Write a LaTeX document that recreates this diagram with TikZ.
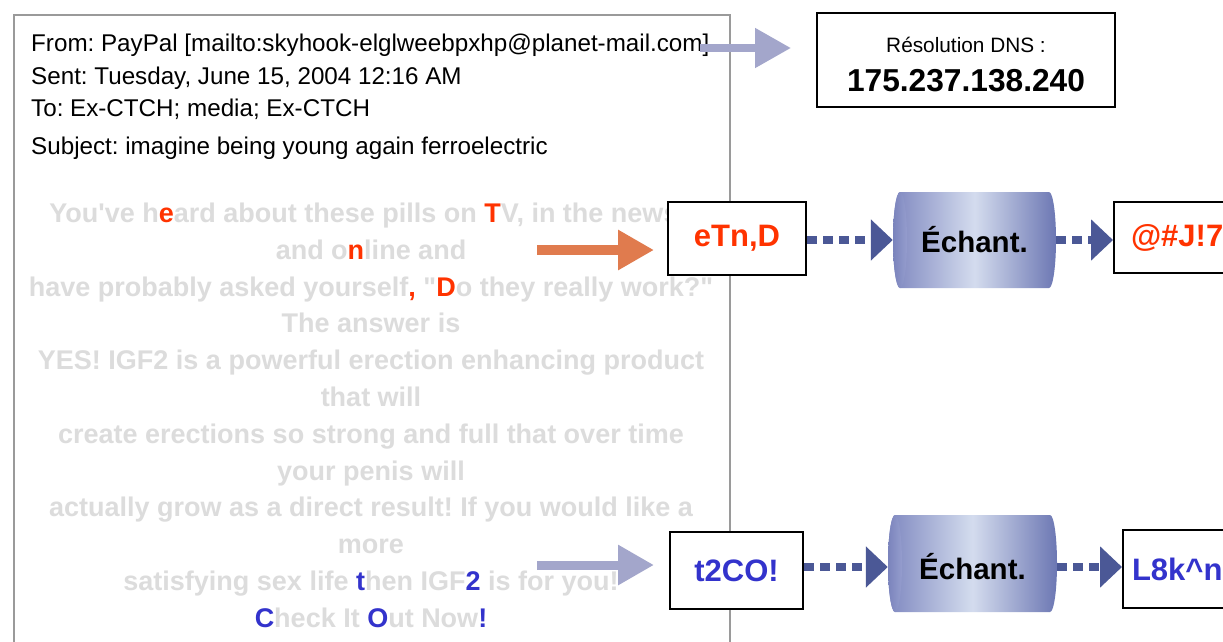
\documentclass[tikz,border=0pt]{standalone}
\usepackage{fontspec}
\setmainfont{Liberation Sans}
\usetikzlibrary{arrows.meta}
\definecolor{hired}{HTML}{FF3300}
\definecolor{hiblue}{HTML}{3333CC}
\definecolor{bodygray}{HTML}{DCDCDC}
\definecolor{lav}{HTML}{A3A6CB}
\definecolor{orng}{HTML}{E07B4E}
\definecolor{navy}{HTML}{4B5896}
\definecolor{mailgray}{HTML}{9A9A9A}
\definecolor{cylL}{HTML}{7F88C0}
\definecolor{cylM}{HTML}{D4DCEE}
\definecolor{cylR}{HTML}{6C77B3}
\definecolor{capL}{HTML}{7A83BC}
\definecolor{capR}{HTML}{959DCD}
\newcommand\hlR[1]{\textcolor{hired}{#1}}
\newcommand\hlB[1]{\textcolor{hiblue}{#1}}
\frenchspacing
\begin{document}
\begin{tikzpicture}[x=1pt,y=-1pt,
 hdr/.style={anchor=base west, inner sep=0pt, font=\fontsize{24.2}{29}\selectfont},
 bodyline/.style={anchor=base, inner sep=0pt, text=bodygray, font=\bfseries\fontsize{27}{31}\selectfont},
 wbox/.style={draw=black, line width=2pt, fill=white, rectangle, inner sep=0pt},
 boxtxt/.style={font=\bfseries\fontsize{31}{36}\selectfont},
 fatarrow/.style={line width=9pt, -{Triangle[length=36pt,width=38pt]}},
 dotconn/.style={navy, line width=8pt, dash pattern=on 10pt off 6pt, -{Triangle[length=22pt,width=40pt]}},
 cyl/.style={rectangle, inner sep=0pt, minimum width=163pt, minimum height=96pt, font=\bfseries\fontsize{29.5}{34}\selectfont}
]
\clip (0,0) rectangle (1223,641);
\fill[white] (0,0) rectangle (1223,641);
% email frame
\node[draw=mailgray, line width=1.5pt, rectangle, inner sep=0pt, minimum width=716pt, minimum height=700pt, anchor=north west] (mail) at (13,14) {};
% header
\node[hdr] (h1) at (31,51.5) {From: PayPal [mailto:skyhook-elglweebpxhp@planet-mail.com]};
\node[hdr] (h2) at (31,84) {Sent: Tuesday, June 15, 2004 12:16 AM};
\node[hdr] (h3) at (31,116.5) {To: Ex-CTCH; media; Ex-CTCH};
\node[hdr] (h4) at (31,154.5) {Subject: imagine being young again ferroelectric};
% body
\node[bodyline] (b1) at (364,222.5) {You\textquotesingle ve h\hlR{e}ard about these pills on \hlR{T}V, in the news};
\node[bodyline] (b2) at (371,259.3) {and o\hlR{n}line and};
\node[bodyline] (b3) at (371,296.1) {have probably asked yourself\hlR{,} \textquotedbl\hlR{D}o they really work?\textquotedbl};
\node[bodyline] (b4) at (371,332.9) {The answer is};
\node[bodyline] (b5) at (371,369.7) {YES! IGF2 is a powerful erection enhancing product};
\node[bodyline] (b6) at (371,406.5) {that will};
\node[bodyline] (b7) at (371,443.3) {create erections so strong and full that over time};
\node[bodyline] (b8) at (371,480.1) {your penis will};
\node[bodyline] (b9) at (371,516.9) {actually grow as a direct result! If you would like a};
\node[bodyline] (b10) at (371,553.7) {more};
\node[bodyline] (b11) at (371,590.5) {satisfying sex life \hlB{t}hen IGF\hlB{2} is for you!};
\node[bodyline] (b12) at (371,627.3) {\hlB{C}heck It \hlB{O}ut Now\hlB{!}};
% DNS box
\node[wbox, minimum width=298pt, minimum height=94pt] (dns) at (966,60) {};
\node[inner sep=0pt, font=\fontsize{20.8}{24}\selectfont] (dnsa) at (966,45) {Résolution DNS :};
\node[inner sep=0pt, font=\bfseries\fontsize{31.7}{36}\selectfont] (dnsb) at (966,81) {175.237.138.240};
% boxes
\node[wbox, minimum width=138pt, minimum height=73pt, boxtxt, text=hired] (etn) at (737,238.5) {eTn,D};
\node[wbox, minimum width=133pt, minimum height=77pt, boxtxt, text=hiblue] (t2c) at (736.5,570.5) {t2CO!};
\node[wbox, anchor=west, minimum height=71pt, text width=121pt, inner xsep=17pt, align=left, boxtxt, text=hired] (out1) at (1113,237.5) {@\#J!7};
\node[wbox, anchor=west, minimum height=78pt, text width=121pt, inner xsep=9pt, align=left, boxtxt, text=hiblue] (out2) at (1122,569) {L8k\textasciicircum n};
% cylinders
\shade[left color=cylL, right color=cylR, middle color=cylM] (900,192) -- (1049,192) arc[start angle=90,end angle=-90,x radius=7pt,y radius=48pt] -- (900,288) arc[start angle=270,end angle=90,x radius=7pt,y radius=48pt] -- cycle;
\shade[left color=capL, right color=capR] (900,240) ellipse[x radius=7pt, y radius=48pt];
\node[cyl] (ech1) at (974.5,240) {Échant.};
\shade[left color=cylL, right color=cylR, middle color=cylM] (895,515) -- (1050,515) arc[start angle=90,end angle=-90,x radius=7pt,y radius=48.5pt] -- (895,612) arc[start angle=270,end angle=90,x radius=7pt,y radius=48.5pt] -- cycle;
\shade[left color=capL, right color=capR] (895,563.5) ellipse[x radius=7pt, y radius=48.5pt];
\node[cyl, minimum width=169pt, minimum height=97pt] (ech2) at (972.5,567) {Échant.};
% arrows
\coordinate (da) at (700,48);
\coordinate (oa) at (537,250);
\coordinate (la) at (537,565);
\draw[fatarrow, lav, line width=8pt, shorten >=25pt] (da) -- (da -| dns.west);
\draw[fatarrow, orng, line width=10pt, shorten >=13pt] (oa) -- (oa -| etn.west);
\draw[fatarrow, lav, shorten >=15pt] (la) -- (la -| t2c.west);
\draw[dotconn] (etn.east |- ech1.west) -- (ech1.west);
\draw[dotconn] (ech1.east) -- (ech1.east -| out1.west);
\draw[dotconn] (t2c.east |- ech2.west) -- (ech2.west);
\draw[dotconn] (ech2.east) -- (ech2.east -| out2.west);
\end{tikzpicture}
\end{document}
